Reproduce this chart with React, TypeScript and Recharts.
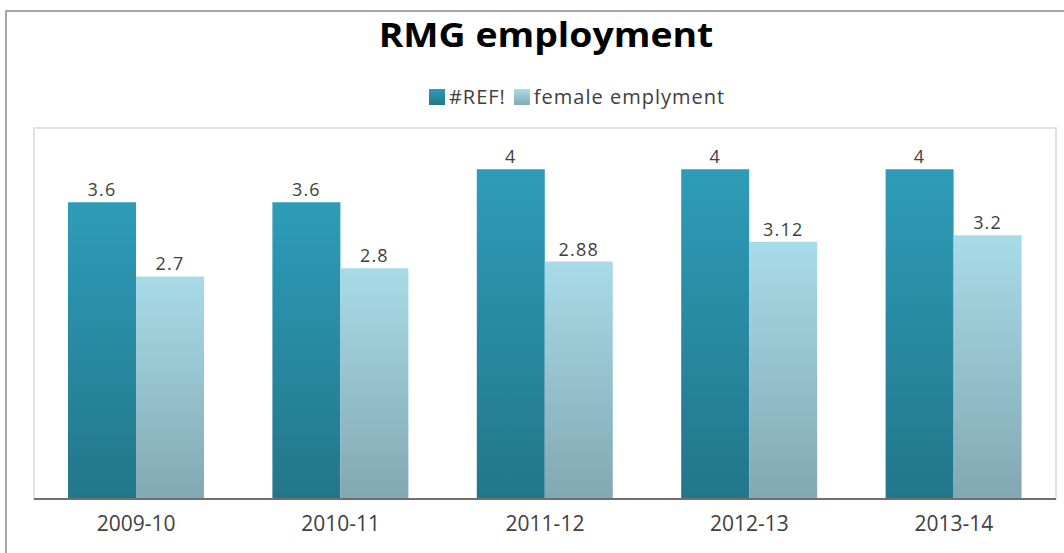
import React from 'react';
import { BarChart, Bar, XAxis, YAxis, LabelList, ReferenceArea } from 'recharts';

const categories = ['2009-10', '2010-11', '2011-12', '2012-13', '2013-14'];
const refValues = [3.6, 3.6, 4, 4, 4];
const femaleValues = [2.7, 2.8, 2.88, 3.12, 3.2];
const seriesNames = ['#REF!', 'female emplyment'];

const data = categories.map((c, i) => ({ name: c, total: refValues[i], female: femaleValues[i] }));

const FONT = '"Open Sans", "DejaVu Sans", sans-serif';

export default function App() {
  return (
    <div style={{ position: 'absolute', left: 0, top: 0, width: 1064, height: 553, overflow: 'hidden', background: '#fff', fontFamily: FONT }}>
      <div style={{ position: 'absolute', left: 5, top: 10, width: 1200, height: 700, borderLeft: '2px solid #a6a6a6', borderTop: '2px solid #a6a6a6' }} />
      <div style={{ position: 'absolute', left: 0, top: 11, width: 1092, textAlign: 'center', fontSize: 34, lineHeight: '46px', fontWeight: 700, color: '#000', transform: 'scaleX(1.1)' }}>
        RMG employment
      </div>
      <div style={{ position: 'absolute', left: 0, top: 83, width: 1154, display: 'flex', justifyContent: 'center', alignItems: 'center', fontSize: 20, letterSpacing: 1.0, color: '#404040' }}>
        <span style={{ display: 'inline-block', width: 16, height: 16, background: 'linear-gradient(#2e9bb6, #23788a)', marginRight: 4 }} />
        <span style={{ marginRight: 8 }}>{seriesNames[0]}</span>
        <span style={{ display: 'inline-block', width: 16, height: 16, background: 'linear-gradient(#a8dbe8, #84aab4)', marginRight: 4 }} />
        <span>{seriesNames[1]}</span>
      </div>
      <div style={{ position: 'absolute', left: 0, top: 0 }}>
        <BarChart width={1064} height={553} data={data} margin={{ top: 128, right: 8, bottom: 24, left: 34 }} barCategoryGap={34} barGap={0}>
          <defs>
            <linearGradient id="gDark" x1="0" y1="0" x2="0" y2="1">
              <stop offset="0%" stopColor="#2e9cb8" />
              <stop offset="100%" stopColor="#22768a" />
            </linearGradient>
            <linearGradient id="gLight" x1="0" y1="0" x2="0" y2="1">
              <stop offset="0%" stopColor="#a8dbe8" />
              <stop offset="100%" stopColor="#82a8b2" />
            </linearGradient>
          </defs>
          <ReferenceArea y1={0} y2={4.5} fill="none" stroke="#d9d9d9" strokeWidth={1.5} ifOverflow="visible" />
          <XAxis dataKey="name" height={30} tickLine={false} axisLine={{ stroke: '#6f6f6f', strokeWidth: 2 }} tick={{ fill: '#404040', fontSize: 21, fontFamily: FONT }} tickMargin={11} />
          <YAxis hide domain={[0, 4.5]} />
          <Bar dataKey="total" name={seriesNames[0]} fill="url(#gDark)" isAnimationActive={false}>
            <LabelList dataKey="total" position="top" offset={6} fill="#404040" fontSize={18} fontFamily={FONT} letterSpacing={1.2} />
          </Bar>
          <Bar dataKey="female" name={seriesNames[1]} fill="url(#gLight)" isAnimationActive={false}>
            <LabelList dataKey="female" position="top" offset={6} fill="#404040" fontSize={18} fontFamily={FONT} letterSpacing={1.2} />
          </Bar>
        </BarChart>
      </div>
    </div>
  );
}
